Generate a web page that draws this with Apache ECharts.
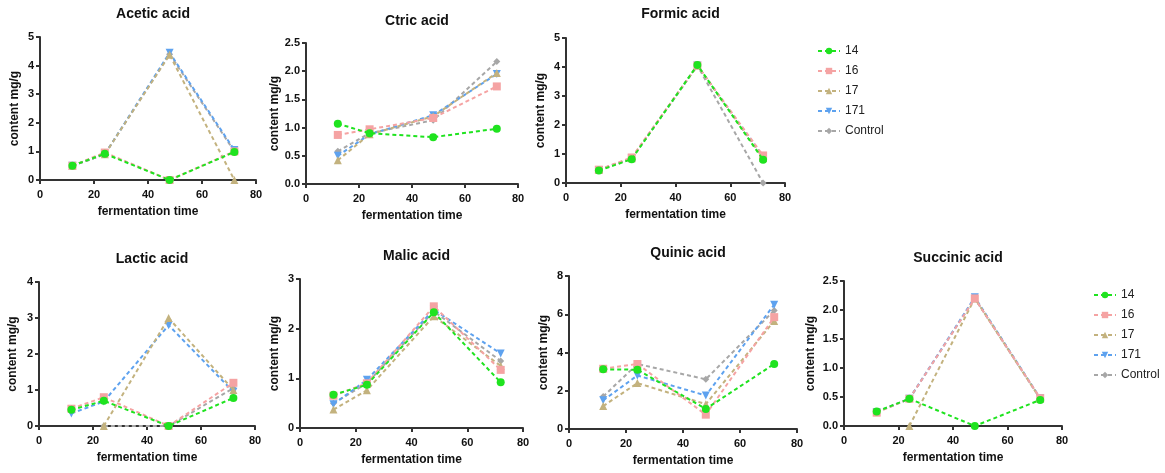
<!DOCTYPE html>
<html>
<head>
<meta charset="utf-8">
<script src="https://cdn.jsdelivr.net/npm/echarts@6/dist/echarts.min.js"></script>
<style>
  html, body { margin: 0; padding: 0; background: #fff; }
  #chart { width: 1165px; height: 473px; }
</style>
</head>
<body>
<div id="chart"></div>
<script>
// Sampling times (h) and strain groups
const times = [12, 24, 48, 72];
const strains = ['14', '16', '17', '171', 'Control'];

// Content (mg/g) per strain, rows in the order of `strains`
const acetic = [
  [0.50, 0.92, 0.00, 0.98],
  [0.50, 0.96, 0.00, 1.00],
  [0.50, 0.90, 4.38, 0.00],
  [0.50, 0.90, 4.45, 1.05],
  [0.50, 0.90, 4.40, 1.00]
];
const citric = [
  [1.07, 0.90, 0.83, 0.98],
  [0.87, 0.97, 1.17, 1.73],
  [0.42, 0.88, 1.20, 1.97],
  [0.50, 0.88, 1.22, 1.95],
  [0.58, 0.90, 1.13, 2.17]
];
const formic = [
  [0.43, 0.82, 4.07, 0.80],
  [0.46, 0.88, 4.05, 0.95],
  [0.45, 0.85, 4.05, 0.86],
  [0.45, 0.85, 4.05, 0.90],
  [0.45, 0.85, 4.05, 0.00]
];
const lactic = [
  [0.45, 0.70, 0.00, 0.78],
  [0.48, 0.80, 0.00, 1.20],
  [null, 0.00, 3.00, 1.00],
  [0.35, 0.68, 2.80, 0.95],
  [null, 0.00, 0.00, 1.05]
];
const malic = [
  [0.67, 0.87, 2.33, 0.92],
  [0.65, 0.90, 2.45, 1.17],
  [0.37, 0.76, 2.25, 1.25],
  [0.48, 0.97, 2.38, 1.50],
  [0.50, 0.90, 2.35, 1.35]
];
const quinic = [
  [3.12, 3.10, 1.05, 3.40],
  [3.15, 3.40, 0.75, 5.85],
  [1.20, 2.40, 1.30, 5.65],
  [1.50, 2.80, 1.75, 6.50],
  [1.70, 3.40, 2.60, 6.20]
];
const succinic = [
  [0.25, 0.47, 0.00, 0.45],
  [0.23, 0.47, 2.20, 0.48],
  [null, 0.00, 2.20, 0.47],
  [0.24, 0.47, 2.22, 0.48],
  [0.24, 0.47, 2.20, 0.47]
];

// Panel titles and y-axis ticks
const titles = ['Acetic acid', 'Ctric acid', 'Formic acid', 'Lactic acid', 'Malic acid', 'Quinic acid', 'Succinic acid'];
const yMax = [5, 2.5, 5, 4, 3, 8, 2.5];
const yStep = [1, 0.5, 1, 1, 1, 2, 0.5];
const xMax = 80;
const xStep = 20;

const panelData = [acetic, citric, formic, lactic, malic, quinic, succinic];

// Layout of each plot area: [left, top, width, height]
const boxes = [
  [40, 37, 216, 143],
  [306, 43, 212, 141],
  [566, 38, 219, 145],
  [39, 282, 216, 144],
  [300, 279, 223, 149],
  [569, 276, 228, 153],
  [844, 281, 218, 145]
];
const titleY = [2, 9, 2, 247, 244, 241, 246];
const yNameGap = [19, 25, 19, 20, 19, 19, 27];

const colors = ['#1fe31f', '#f5a3a3', '#c3b27e', '#5ea2ef', '#a7a7a7'];
const symbols = ['circle', 'rect', 'triangle', 'path://M0,0 L10,0 L5,10 Z', 'diamond'];
const symbolSizes = [8, 8, 8, 8, 7];

const axisColor = '#333';
const font = 'Liberation Sans, Arial, sans-serif';

const grids = [], xAxes = [], yAxes = [], series = [], titleList = [];

boxes.forEach((b, i) => {
  grids.push({ left: b[0], top: b[1], width: b[2], height: b[3], containLabel: false });
  titleList.push({
    text: titles[i],
    left: b[0] + b[2] / 2,
    top: titleY[i],
    textAlign: 'center',
    textStyle: { fontFamily: font, fontSize: 14, fontWeight: 'bold', color: '#111' }
  });
  xAxes.push({
    gridIndex: i, type: 'value', min: 0, max: xMax, interval: xStep,
    name: 'fermentation time', nameLocation: 'middle', nameGap: 26,
    nameTextStyle: { fontFamily: font, fontSize: 12, fontWeight: 'bold', color: '#111' },
    axisLine: { show: true, onZero: false, lineStyle: { color: axisColor, width: 2 } },
    axisTick: { show: true, length: 4, lineStyle: { color: axisColor, width: 2 } },
    axisLabel: { fontFamily: font, fontSize: 11, fontWeight: 'bold', color: '#111', margin: 9 },
    splitLine: { show: false }
  });
  const dec = yStep[i] < 1 ? 1 : 0;
  yAxes.push({
    gridIndex: i, type: 'value', min: 0, max: yMax[i], interval: yStep[i],
    name: 'content mg/g', nameLocation: 'middle', nameGap: yNameGap[i],
    nameTextStyle: { fontFamily: font, fontSize: 12, fontWeight: 'bold', color: '#111' },
    axisLine: { show: true, onZero: false, lineStyle: { color: axisColor, width: 2 } },
    axisTick: { show: true, length: 4, lineStyle: { color: axisColor, width: 2 } },
    axisLabel: { fontFamily: font, fontSize: 11, fontWeight: 'bold', color: '#111', margin: 6,
                 formatter: v => v.toFixed(dec) },
    splitLine: { show: false }
  });
  // draw strain 14 last so it sits on top
  for (let s = strains.length - 1; s >= 0; s--) {
    const vals = panelData[i][s];
    series.push({
      name: strains[s], type: 'line', xAxisIndex: i, yAxisIndex: i,
      data: times.map((t, k) => [t, vals[k]]),
      symbol: symbols[s], symbolSize: symbolSizes[s], showSymbol: true,
      itemStyle: { color: colors[s] },
      lineStyle: { color: colors[s], width: 2, type: [4, 3] },
      z: 2 + (strains.length - s),
      animation: false
    });
  }
});

const legendBase = {
  orient: 'vertical', data: strains, itemWidth: 22, itemHeight: 8, itemGap: 8,
  textStyle: { fontFamily: font, fontSize: 12, color: '#222' }
};

const chart = echarts.init(document.getElementById('chart'), null, { renderer: 'canvas' });
chart.setOption({
  backgroundColor: '#fff',
  animation: false,
  title: titleList,
  legend: [
    Object.assign({ left: 812, top: 40 }, legendBase),
    Object.assign({ left: 1088, top: 284 }, legendBase)
  ],
  grid: grids,
  xAxis: xAxes,
  yAxis: yAxes,
  series: series
});
</script>
</body>
</html>
